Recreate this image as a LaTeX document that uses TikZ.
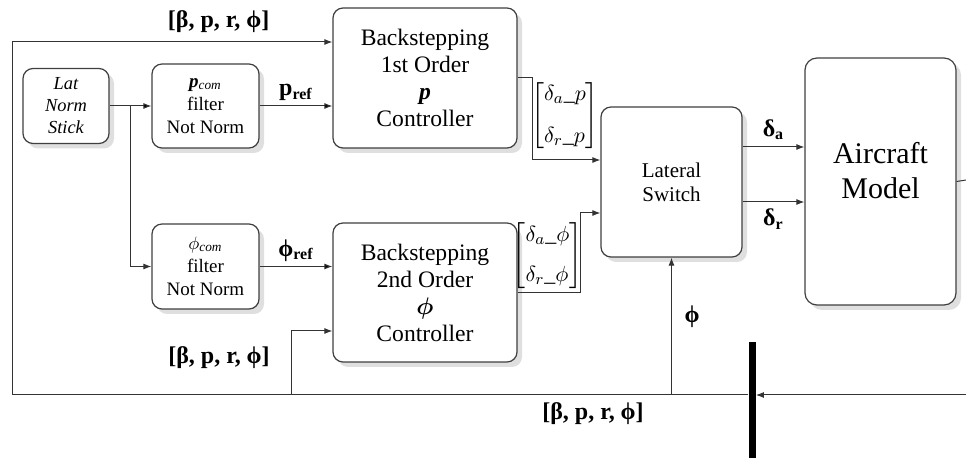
\documentclass[tikz,border=0pt]{standalone}
\usepackage{amsmath,amssymb,bm}
\usepackage{fontspec}
\setmainfont{Liberation Serif}
\usetikzlibrary{arrows.meta,shadows,calc,positioning}

\begin{document}
\begin{tikzpicture}[x=0.5pt,y=-0.5pt,
    blk/.style={draw=black!75,line width=0.6pt,rounded corners=5pt,fill=white,align=center,
      drop shadow={shadow xshift=2.5pt,shadow yshift=-2.5pt,fill=black!25}},
    sig/.style={-{Latex[length=4pt,width=3pt]},draw=black!80,line width=0.5pt},
    bus/.style={font=\fontsize{12}{14}\selectfont\bfseries},
    vec/.style={font=\fontsize{11}{13}\selectfont,inner sep=0pt}]
  \useasboundingbox (0,0) rectangle (966,460);

  % blocks
  \node[blk,minimum width=43pt,minimum height=37.5pt,font=\itshape\fontsize{9.2}{11}\selectfont] (stick) at (66,106) {Lat\\Norm\\Stick};
  \node[blk,minimum width=53.5pt,minimum height=42pt,font=\fontsize{9.5}{11.5}\selectfont] (pfilt) at (205.5,106) {\textbf{\textit{p}}\textsubscript{\textit{com}}\\filter\\Not Norm};
  \node[blk,minimum width=53.5pt,minimum height=42.5pt,font=\fontsize{9.5}{11.5}\selectfont] (phifilt) at (205.5,266.5) {$\phi$\textsubscript{\textit{com}}\\filter\\Not Norm};
  \node[blk,minimum width=92pt,minimum height=70pt,font=\fontsize{11.8}{13.5}\selectfont] (bs1) at (425,78) {Backstepping\\1st Order\\\textbf{\textit{p}}\\Controller};
  \node[blk,minimum width=92pt,minimum height=69.5pt,font=\fontsize{11.8}{13.5}\selectfont] (bs2) at (425,292.5) {Backstepping\\2nd Order\\$\bm{\phi}$\\Controller};
  \node[blk,minimum width=70.5pt,minimum height=75pt,font=\fontsize{10.5}{12}\selectfont] (switch) at (671.5,182) {Lateral\\Switch};
  \node[blk,rounded corners=6pt,minimum width=75.5pt,minimum height=123.5pt,
    label={[align=center,yshift=5.5pt,font=\fontsize{15}{17.5}\selectfont]center:Aircraft\\Model}] (plant) at (880.5,181.5) {};
  \node[fill=black,inner sep=0pt,minimum width=3.5pt,minimum height=58pt] (demux) at (752,400) {};

  \coordinate (fbin) at (966,395);
  \coordinate (aout) at (966,180);
  \coordinate (fl) at (12,395);
  \coordinate (tl) at (12,42);
  \coordinate (br) at (130,106);
  \coordinate (t2) at (291,395);
  \coordinate (sa) at ($(switch.east)+(0,-35)$);
  \coordinate (sr) at ($(switch.east)+(0,20)$);

  % stick and filters
  \path[sig] (stick) edge (pfilt);
  \draw[sig] (br) |- (phifilt.west);
  \path[sig] (pfilt) edge node[above=-1pt,bus]{p\textsubscript{ref}} (pfilt -| bs1.west);
  \path[sig] (phifilt) edge node[above=-1pt,bus]{ϕ\textsubscript{ref}} (phifilt -| bs1.west);

  % state feedback
  \draw[sig] (fbin) -- (demux.east |- fbin);
  \draw[sig] (demux.west |- fbin) -- (fl) -- (tl) -- (tl -| bs1.west) node[pos=0.645,above=1pt,bus]{[β, p, r, ϕ]};
  \draw[sig] (t2) |- ($(bs2.west)+(0,38.5)$);
  \draw[sig] (switch.south |- fbin) -- (switch.south) node[pos=0.57,right=3pt,bus]{ϕ};
  \node[bus] (busB) at (219,358) {[β, p, r, ϕ]};
  \node[bus] (busC) at (593,414) {[β, p, r, ϕ]};

  % controller outputs
  \draw[sig] (bs1.east) -- (532,78) |- ($(switch.west)+(0,-22)$);
  \draw[sig] (bs2.east) -- (580,292.5) |- ($(switch.west)+(0,31)$);
  \node[vec] (ctl1) at (565,116) {$\left[\begin{array}{@{}l@{}}\delta_{a}\_p\\[8pt]\delta_{r}\_p\end{array}\right]$};
  \node[vec] (ctl2) at (547.5,256) {$\left[\begin{array}{@{}l@{}}\delta_{a}\_\phi\\[7pt]\delta_{r}\_\phi\end{array}\right]$};

  % surface commands
  \draw[sig] (sa) -- (sa -| plant.west) node[midway,above,bus]{δ\textsubscript{a}};
  \draw[sig] (sr) -- (sr -| plant.west) node[midway,below,bus]{δ\textsubscript{r}};
  \draw[draw=black!80,line width=0.5pt] (plant.east) -- (aout);
\end{tikzpicture}
\end{document}
